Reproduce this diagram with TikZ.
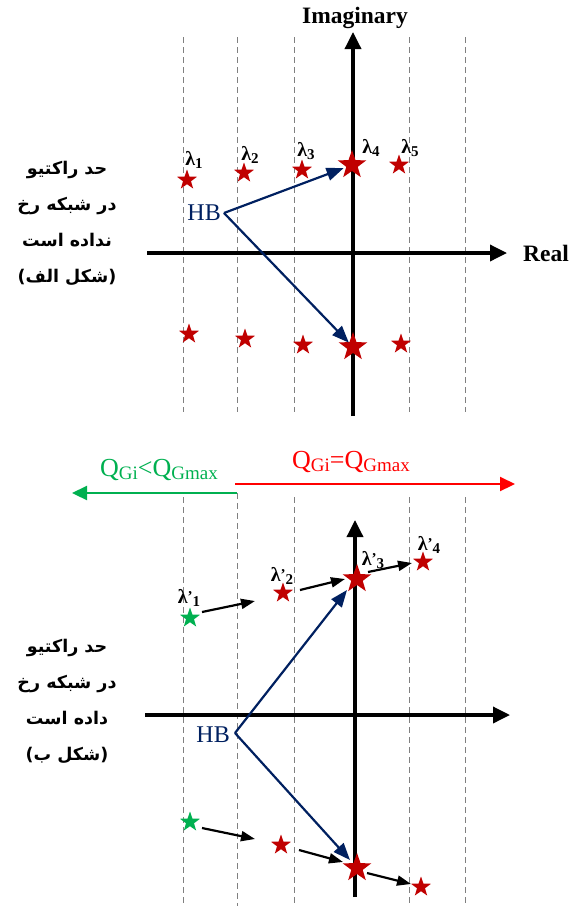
\documentclass[tikz,border=0pt]{standalone}
\usepackage{fontspec}
\setmainfont{Liberation Serif}
\newfontfamily\arabicfont[Script=Arabic]{DejaVu Sans}
\TeXXeTstate=1
\usetikzlibrary{shapes.geometric,arrows.meta}
\definecolor{sred}{HTML}{C00000}
\definecolor{sgreen}{HTML}{00B050}
\definecolor{hbblue}{HTML}{002060}
\definecolor{qred}{HTML}{FF0000}
\definecolor{dgray}{HTML}{808080}
\newcommand{\lam}[1]{λ\raisebox{-0.3ex}{\fontsize{15}{15}\selectfont #1}}
\newcommand{\lamp}[1]{λ\raisebox{0.2ex}{\fontsize{15}{15}\selectfont '}\raisebox{-0.3ex}{\fontsize{15}{15}\selectfont #1}}
\newcommand{\qsub}[1]{\raisebox{-0.25ex}{\fontsize{19}{19}\selectfont #1}}
\begin{document}
\begin{tikzpicture}[x=1pt,y=-1pt,
  dashline/.style={dgray, line width=0.9pt, dash pattern=on 6pt off 4pt},
  axis/.style={line width=3.5pt, -{Triangle[length=17pt,width=16pt]}},
  sstar/.style={star, star points=5, star point ratio=2.5, fill=sred, inner sep=0pt, minimum size=21pt},
  bstar/.style={sstar, minimum size=30pt},
  gstar/.style={sstar, fill=sgreen},
  hbarrow/.style={hbblue, line width=2.2pt, -{Triangle[length=17pt,width=13pt]}},
  barrow/.style={black, line width=2.2pt, -{Triangle[length=14pt,width=10pt]}},
  lbl/.style={font=\bfseries\fontsize{20}{20}\selectfont, inner sep=0pt},
  axlbl/.style={font=\bfseries\fontsize{23.5}{23.5}\selectfont, inner sep=0pt},
  hblbl/.style={hbblue, font=\fontsize{24}{24}\selectfont, inner sep=0pt, anchor=east},
  qlbl/.style={font=\fontsize{26}{26}\selectfont, inner sep=0pt},
  fa/.style={font=\arabicfont\bfseries\fontsize{17.5}{36}\selectfont, align=center, inner sep=0pt}
]
\useasboundingbox (0,0) rectangle (570,906);

% ---------- top panel ----------
\foreach \x in {183,237,294,409,465} \draw[dashline] (\x,37) -- (\x,412);
\coordinate (iy0) at (353,416);
\coordinate (iy1) at (353,32);
\coordinate (rx0) at (147,253);
\coordinate (rx1) at (507,253);
\draw[axis] (iy0) -- (iy1);
\draw[axis] (rx0) -- (rx1);
\node[axlbl] (imag) at (355,18) {Imaginary};
\node[axlbl] (real) at (546,253) {Real};

\node[sstar] (a1) at (187,180) {};
\node[sstar] (a2) at (244,173) {};
\node[sstar] (a3) at (302,170) {};
\node[bstar] (a4) at (352,165) {};
\node[sstar] (a5) at (399,165) {};
\node[sstar] (b1) at (189,334) {};
\node[sstar] (b2) at (245,339) {};
\node[sstar] (b3) at (303,345) {};
\node[bstar] (b4) at (353,347) {};
\node[sstar] (b5) at (401,344) {};

\node[lbl] (l1) at (194,160) {\lam{1}};
\node[lbl] (l2) at (250,155) {\lam{2}};
\node[lbl] (l3) at (306,151) {\lam{3}};
\node[lbl] (l4) at (371,148) {\lam{4}};
\node[lbl] (l5) at (410,148) {\lam{5}};

\node[hblbl] (hb1) at (221,213) {HB};
\coordinate (v1) at (224,213);
\draw[hbarrow, shorten >=9pt] (v1) -- (a4.center);
\draw[hbarrow, shorten >=6pt] (v1) -- (b4.center);

\node[fa] (fa1) at (67,223) {\beginR حد راکتیو\endR\\ \beginR در شبکه رخ\endR\\ \beginR نداده است\endR\\ \beginR (شکل الف)\endR};

% ---------- middle ----------
\coordinate (gs) at (237,493);
\coordinate (ge) at (72,493);
\coordinate (rs) at (235,484);
\coordinate (re) at (515,484);
\draw[sgreen, line width=2.2pt, -{Triangle[length=15pt,width=14pt]}] (gs) -- (ge);
\draw[qred, line width=2.2pt, -{Triangle[length=15pt,width=14pt]}] (rs) -- (re);
\node[qlbl, sgreen] (qg) at (159,470) {Q\qsub{Gi}<Q\qsub{Gmax}};
\node[qlbl, qred] (qr) at (351,462) {Q\qsub{Gi}=Q\qsub{Gmax}};

% ---------- bottom panel ----------
\draw[dashline] (237,493) -- (237,906);
\foreach \x in {183,294,409,465} \draw[dashline] (\x,497) -- (\x,906);
\coordinate (jy0) at (355,897);
\coordinate (jy1) at (355,520);
\coordinate (sx0) at (145,715);
\coordinate (sx1) at (510,715);
\draw[axis] (jy0) -- (jy1);
\draw[axis] (sx0) -- (sx1);

\node[gstar] (c1) at (190,618) {};
\node[sstar] (c2) at (283,593) {};
\node[bstar] (c3) at (357,579) {};
\node[sstar] (c4) at (423,562) {};
\node[gstar] (d1) at (190,822) {};
\node[sstar] (d2) at (281,845) {};
\node[bstar] (d3) at (357,868) {};
\node[sstar] (d4) at (421,887) {};

\node[lbl] (m1) at (189,598) {\lamp{1}};
\node[lbl] (m2) at (282,576) {\lamp{2}};
\node[lbl] (m3) at (373,560) {\lamp{3}};
\node[lbl] (m4) at (429,545) {\lamp{4}};

\coordinate (p1s) at (202,612); \coordinate (p1e) at (255,601);
\coordinate (p2s) at (300,590); \coordinate (p2e) at (345,579);
\coordinate (p3s) at (368,572); \coordinate (p3e) at (412,563);
\coordinate (q1s) at (202,828); \coordinate (q1e) at (255,839);
\coordinate (q2s) at (299,850); \coordinate (q2e) at (343,862);
\coordinate (q3s) at (367,873); \coordinate (q3e) at (411,884);
\foreach \s/\e in {p1s/p1e,p2s/p2e,p3s/p3e,q1s/q1e,q2s/q2e,q3s/q3e}
  \draw[barrow] (\s) -- (\e);

\node[hblbl] (hb2) at (230,735) {HB};
\coordinate (v2) at (235,733);
\coordinate (t1) at (347,590);
\coordinate (t2) at (350,860);
\draw[hbarrow] (v2) -- (t1);
\draw[hbarrow] (v2) -- (t2);

\node[fa] (fa2) at (67,701) {\beginR حد راکتیو\endR\\ \beginR در شبکه رخ\endR\\ \beginR داده است\endR\\ \beginR (شکل ب)\endR};
\end{tikzpicture}
\end{document}
